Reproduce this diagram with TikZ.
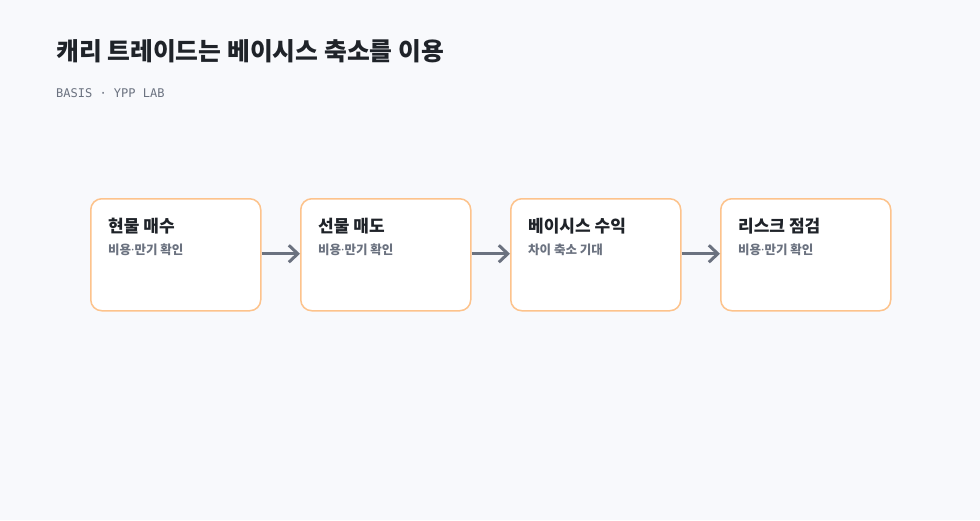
\documentclass[tikz,border=0pt]{standalone}
\usepackage{fontspec}
\setmainfont{Noto Sans CJK KR}
\newfontfamily\kr{Noto Sans CJK KR}
\newfontfamily\lat{Noto Sans}
\newfontfamily\mono{DejaVu Sans Mono}
\usetikzlibrary{arrows.meta}
\definecolor{bg}{HTML}{F8F9FC}
\definecolor{ink}{HTML}{1F2329}
\definecolor{sub}{HTML}{6B7280}
\definecolor{edge}{HTML}{FDC38C}
\definecolor{arr}{HTML}{6B7280}
\newcommand\mdotc{{\lat\bfseries ·}}
\tikzset{
  card/.style={draw=edge, line width=1.5pt, fill=white, rounded corners=11pt, minimum width=170pt, minimum height=112pt, anchor=north west, inner sep=0pt},
  ctitle/.style={anchor=base west, inner sep=0pt, font=\kr\bfseries\fontsize{17}{20}\selectfont, text=ink},
  csub/.style={anchor=base west, inner sep=0pt, font=\kr\bfseries\fontsize{12.5}{15}\selectfont, text=sub},
  flow/.style={draw=arr, line width=3pt, -{Straight Barb[length=9pt, width=17pt, line width=3pt]}},
}
\begin{document}
\begin{tikzpicture}[x=1pt, y=-1pt]
\fill[bg] (0,0) rectangle (980,520);
\useasboundingbox (0,0) rectangle (980,520);
\node[anchor=base west, inner sep=0pt, font=\kr\bfseries\fontsize{24.8}{29}\selectfont, text=ink] (title) at (56,60) {캐리 트레이드는 베이시스 축소를 이용};
\node[anchor=base west, inner sep=0pt, font=\mono\fontsize{12}{14}\selectfont, text=sub] (subt) at (56,97) {BASIS · YPP LAB};
\foreach \i/\x/\t/\s in {1/90/현물 매수/비용\mdotc 만기 확인, 2/300/선물 매도/비용\mdotc 만기 확인, 3/510/베이시스 수익/차이 축소 기대, 4/720/리스크 점검/비용\mdotc 만기 확인}{
  \node[card] (b\i) at (\x,198) {};
  \node[ctitle] (t\i) at (\x+18,232) {\t};
  \node[csub] (s\i) at (\x+18,254) {\s};
}
\foreach \i/\j in {1/2,2/3,3/4}{
  \draw[flow] ([yshift=1pt]b\i.east) -- ([yshift=1pt]b\j.west);
}
\end{tikzpicture}
\end{document}
